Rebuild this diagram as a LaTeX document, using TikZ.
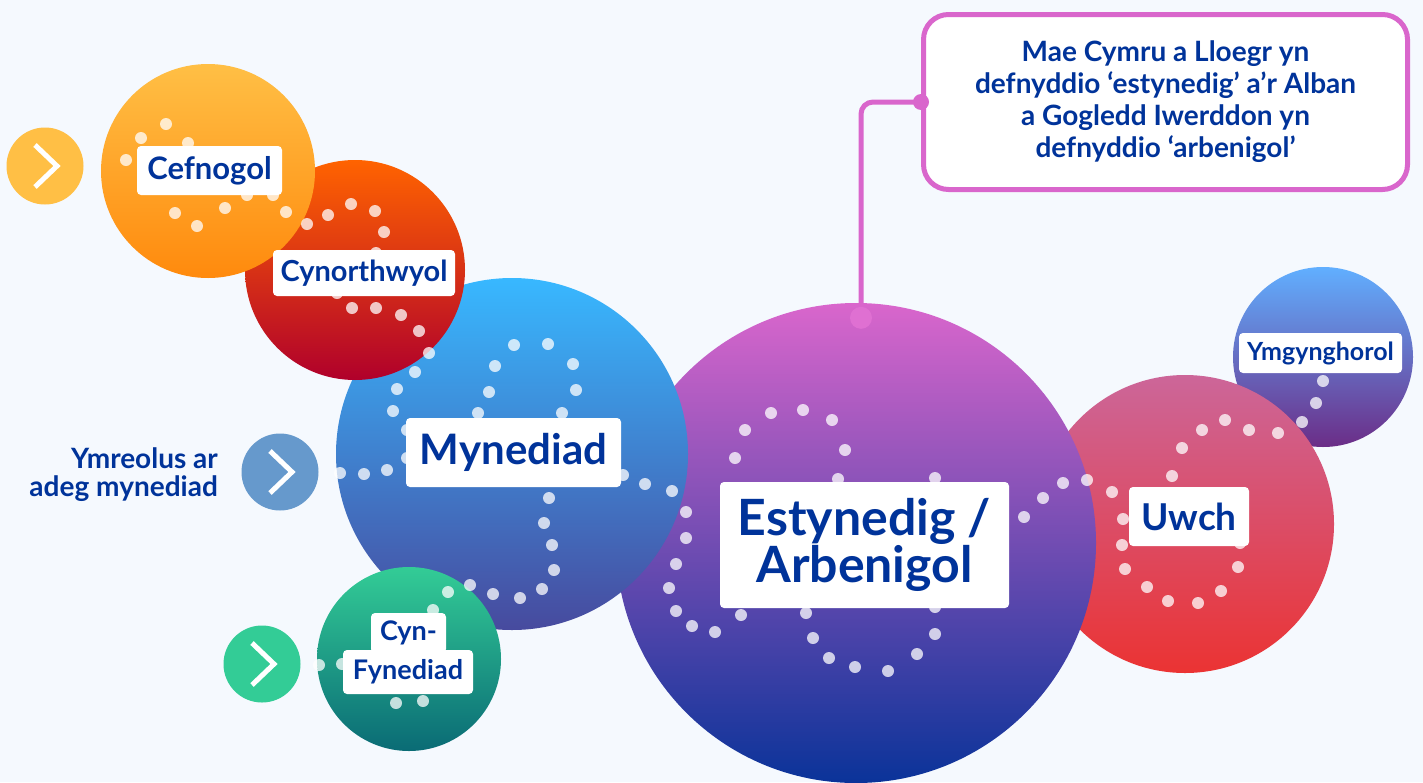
\documentclass[tikz,border=0pt]{standalone}
\usepackage{fontspec}
\setmainfont{Lato}
\usetikzlibrary{calc}
\definecolor{bg}{HTML}{F5F9FE}
\definecolor{navy}{HTML}{00339A}
\definecolor{cefT}{HTML}{FFBF45}\definecolor{cefB}{HTML}{FF8A0D}
\definecolor{cynT}{HTML}{FF6300}\definecolor{cynB}{HTML}{B0002B}
\definecolor{mynT}{HTML}{38B8FF}\definecolor{mynB}{HTML}{474A9E}
\definecolor{estT}{HTML}{D966CC}\definecolor{estB}{HTML}{0A3399}
\definecolor{uwT}{HTML}{CC6699}\definecolor{uwB}{HTML}{EB3333}
\definecolor{ymT}{HTML}{61AFFF}\definecolor{ymB}{HTML}{6B2D87}
\definecolor{cfT}{HTML}{33CC96}\definecolor{cfB}{HTML}{0A6B75}
\definecolor{arrO}{HTML}{FFBF45}\definecolor{arrB}{HTML}{6699CC}\definecolor{arrG}{HTML}{33CC96}
\definecolor{callpink}{HTML}{D966CC}\definecolor{callpinkL}{HTML}{DF70D2}
\begin{document}
\begin{tikzpicture}[x=1pt,y=-1pt,
  bubble/.style={circle,inner sep=0pt,draw=none},
  lbl/.style={fill=white,rounded corners=4pt,inner sep=0pt,text=navy},
  dotm/.style={fill=white,fill opacity=0.75},
  arrowbtn/.style={circle,inner sep=0pt,minimum size=77pt},
  chev/.style={white,line width=5pt},
  connector/.style={callpink,line width=5pt,rounded corners=12pt}]
\fill[bg] (0,0) rectangle (1423,782);
\useasboundingbox (0,0) rectangle (1423,782);
% bubbles, back to front
\node[bubble,minimum size=180pt,top color=ymT,bottom color=ymB] (ymg) at (1323,357) {};
\node[bubble,minimum size=298pt,top color=uwT,bottom color=uwB] (uwch) at (1185,524) {};
\node[bubble,minimum size=480pt,top color=estT,bottom color=estB] (est) at (856,543) {};
\node[bubble,minimum size=352pt,top color=mynT,bottom color=mynB] (myn) at (512,454) {};
\node[bubble,minimum size=220pt,top color=cynT,bottom color=cynB] (cyn) at (355,270) {};
\node[bubble,minimum size=214pt,top color=cefT,bottom color=cefB] (cef) at (208,171) {};
\node[bubble,minimum size=184pt,top color=cfT,bottom color=cfB] (cfy) at (409,659) {};
% dots
\foreach \x/\y in {166/124,141/138,188/143,126/160,247/195,273/195,175/213,225/208,197/226,286/212,
  307/224,328/215,351/204,375/211,384/232,376/253,337/293,352/308,376/308,401/315,419/331,429/353,415/372,397/389,
  393/411,407/430,407/458,387/470,364/474,340/473,514/345,548/344,573/364,576/390,562/413,495/366,489/392,478/413,
  623/475,645/484,672/491,549/498,544/523,552/545,554/570,542/589,520/598,493/594,470/585,448/592,433/610,
  686/512,686/538,676/564,669/588,676/611,692/626,715/632,741/615,771/413,803/410,832/420,845/450,838/479,745/430,735/458,
  806/613,813/638,829/658,855/667,888/671,917/654,935/634,935/607,935/478,1024/517,1043/498,1063/483,1087/480,
  1112/492,1123/519,1122/545,1125/569,1147/587,1168/601,1198/603,1221/591,1238/567,1240/543,1172/476,1182/448,
  1202/430,1225/420,1249/430,1278/433,1302/422,1316/403,1323/381,
  319/665,342/664,396/703,423/701}
  \fill[dotm] (\x,\y) circle (6pt);
% labels
\node[lbl,minimum width=145pt,minimum height=49pt,font=\bfseries\fontsize{31}{36}\selectfont] (lcef) at (209.5,170.5) {Cefnogol};
\node[lbl,minimum width=182pt,minimum height=46pt,font=\bfseries\fontsize{29}{34}\selectfont] (lcyn) at (364,273) {Cynorthwyol};
\node[lbl,minimum width=215pt,minimum height=69pt,font=\bfseries\fontsize{42}{48}\selectfont] (lmyn) at (513.5,452.5) {Mynediad};
\node[lbl,minimum width=289pt,minimum height=126pt,align=center,font=\bfseries\fontsize{50}{43}\selectfont] (lest) at (864.5,545) {Estynedig /\\Arbenigol};
\node[lbl,minimum width=120pt,minimum height=59pt,font=\bfseries\fontsize{37}{44}\selectfont] (luw) at (1189,516.5) {Uwch};
\node[lbl,minimum width=163pt,minimum height=40pt,font=\bfseries\fontsize{25}{28}\selectfont] (lym) at (1320.5,353) {Ymgynghorol};
\node[lbl,minimum width=75pt,minimum height=40pt,font=\bfseries\fontsize{27}{30}\selectfont] (lcf1) at (408.5,633) {Cyn-};
\node[lbl,minimum width=130pt,minimum height=44pt,font=\bfseries\fontsize{27}{30}\selectfont] (lcf2) at (408,672) {Fynediad};
% arrow buttons
\node[arrowbtn,fill=arrO] (a1) at (45,166) {};
\node[arrowbtn,fill=arrB] (a2) at (280,472) {};
\node[arrowbtn,fill=arrG] (a3) at (262,664) {};
\foreach \a in {a1,a2,a3}
  \draw[chev] ($(\a)+(-10,-21)$) -- ($(\a)+(12,0)$) -- ($(\a)+(-10,21)$);
% side text
\node[anchor=east,align=right,text=navy,inner sep=0pt,font=\bfseries\fontsize{28}{28}\selectfont] (auto) at (218,475) {Ymreolus ar\\adeg mynediad};
% callout
\node[draw=callpink,line width=5pt,fill=white,rounded corners=25pt,minimum width=484pt,minimum height=175pt,inner sep=0pt,align=center,text=navy,font=\bfseries\fontsize{28}{32}\selectfont] (call) at (1165.5,102) {Mae Cymru a Lloegr yn\\defnyddio ‘estynedig’ a’r Alban\\a Gogledd Iwerddon yn\\defnyddio ‘arbenigol’};
\coordinate (estdot) at ($(est.north)+(5,15)$);
\draw[connector] (call.west) -| (estdot);
\fill[callpink] (call.west) circle (8pt);
\fill[callpinkL] (estdot) circle (11pt);
\end{tikzpicture}
\end{document}
